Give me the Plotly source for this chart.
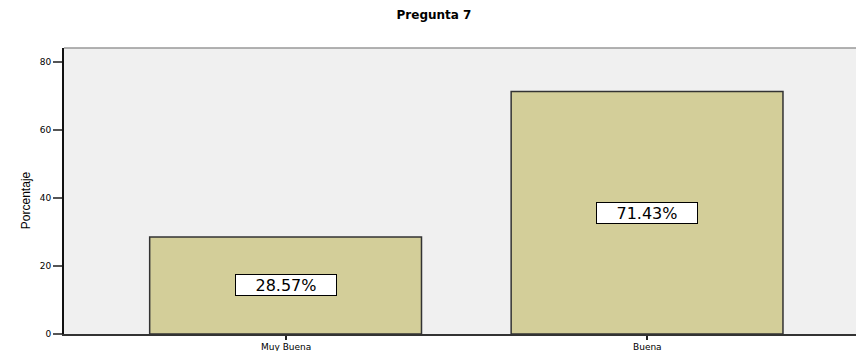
import plotly.graph_objects as go

# Survey results for question 7
categories = ["Muy Buena", "Buena"]
percentages = [28.57, 71.43]
labels = ["28.57%", "71.43%"]

W, H = 856, 351
L, R, T, B = 64, 0, 48, 17

fig = go.Figure()
fig.add_trace(go.Bar(
    x=[0, 1],
    y=percentages,
    width=0.752,
    marker=dict(color="rgb(211,206,153)", line=dict(color="#333333", width=1.5)),
    hoverinfo="skip",
))

# Boxed value labels centred in each bar
for i, (v, t) in enumerate(zip(percentages, labels)):
    fig.add_annotation(
        x=i, y=v / 2, xref="x", yref="y", text=t, showarrow=False,
        font=dict(family="DejaVu Sans, Liberation Sans, Arial", size=16, color="black"),
        bgcolor="white", bordercolor="black", borderwidth=1,
        width=98, height=18, borderpad=1,
    )

# Category labels under the axis
for i, c in enumerate(categories):
    fig.add_annotation(
        x=i, y=0, xref="x", yref="paper", yanchor="top", yshift=-6,
        text=c, showarrow=False,
        font=dict(family="DejaVu Sans, Liberation Sans, Arial", size=9, color="black"),
    )

# Vertical axis title
fig.add_annotation(
    x=(17 - L) / (W - L - R), y=0.468, xref="paper", yref="paper",
    text="Porcentaje", textangle=-90, showarrow=False,
    font=dict(family="Liberation Sans Narrow, Arial Narrow, Liberation Sans", size=12, color="black"),
)

# Gray top frame line
fig.add_shape(type="line", xref="paper", yref="paper", x0=0, x1=1, y0=1, y1=1,
              line=dict(color="#999999", width=1.5))

fig.update_layout(
    width=W, height=H,
    margin=dict(l=L, r=R, t=T, b=B),
    paper_bgcolor="white",
    plot_bgcolor="#F0F0F0",
    showlegend=False,
    title=dict(text="<b>Pregunta 7</b>", x=434 / W, xref="container", xanchor="center",
               y=1 - 15 / H, yref="container", yanchor="middle",
               font=dict(family="DejaVu Sans, Liberation Sans, Arial", size=12, color="black")),
    xaxis=dict(
        range=[-0.613, 1.578], tickvals=[0, 1], ticktext=["", ""],
        ticks="outside", ticklen=4, tickwidth=1.5, tickcolor="#222222",
        showline=True, linecolor="#333333", linewidth=2,
        showgrid=False, zeroline=False, automargin=False,
    ),
    yaxis=dict(
        range=[0, 84.2], tickvals=[0, 20, 40, 60, 80],
        ticks="outside", ticklen=9, tickwidth=1.5, tickcolor="#555555",
        showline=True, linecolor="#111111", linewidth=2,
        showgrid=False, zeroline=False, automargin=False,
        tickfont=dict(family="DejaVu Sans, Liberation Sans, Arial", size=9, color="black"),
    ),
)

fig.write_html("out.html")
